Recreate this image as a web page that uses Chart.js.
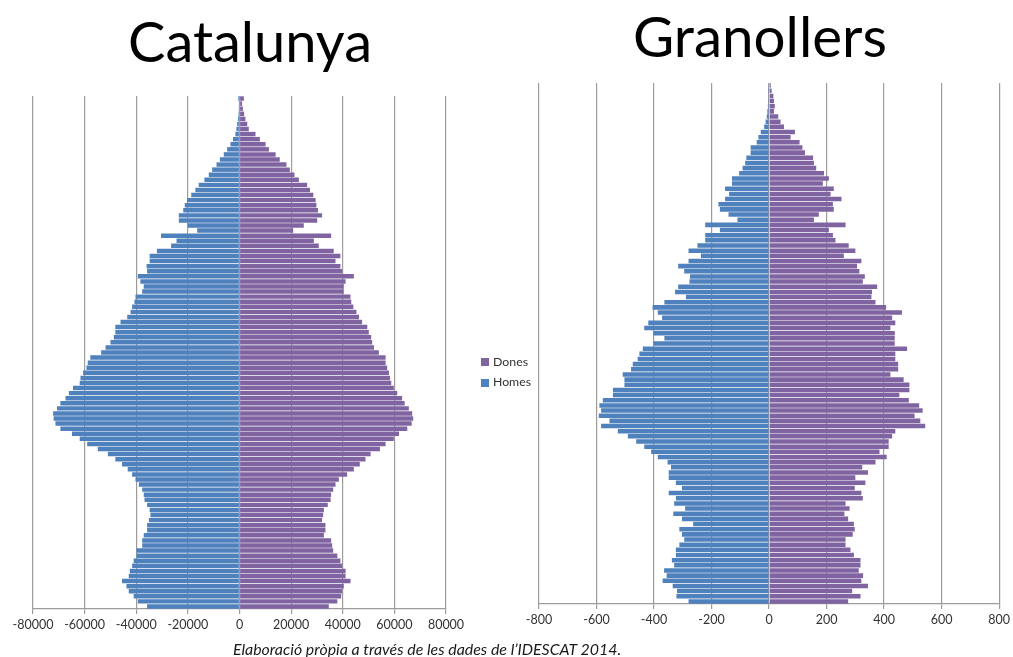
<!DOCTYPE html>
<html><head><meta charset="utf-8">
<script src="https://cdn.jsdelivr.net/npm/chart.js@4.4.1/dist/chart.umd.min.js"></script>
<style>
html,body{margin:0;padding:0;background:#fff;}
#wrap{position:relative;width:1013px;height:657px;overflow:hidden;background:#fff;}
canvas{position:absolute;}
.txt{position:absolute;white-space:nowrap;line-height:1;margin:0;padding:0;}
.sw{position:absolute;}
</style></head><body>
<div id="wrap">
  <div id="t1" class="txt"></div>
  <div id="t2" class="txt"></div>
  <canvas id="c1" width="480" height="560" style="left:0px;top:86px"></canvas>
  <canvas id="c2" width="513" height="570" style="left:500px;top:70px"></canvas>
  <div id="legend"></div>
  <div id="cap" class="txt"></div>
</div>
<script>
// ---- data (ages 0 .. 100+, bottom to top) ----
const ages = ["0","1","2","3","4","5","6","7","8","9","10","11","12","13","14","15","16","17","18","19","20","21","22","23","24","25","26","27","28","29","30","31","32","33","34","35","36","37","38","39","40","41","42","43","44","45","46","47","48","49","50","51","52","53","54","55","56","57","58","59","60","61","62","63","64","65","66","67","68","69","70","71","72","73","74","75","76","77","78","79","80","81","82","83","84","85","86","87","88","89","90","91","92","93","94","95","96","97","98","99","100"];

const catalunyaHomes = [-35800,-39400,-41000,-42900,-43800,-45500,-42900,-42500,-41600,-41000,
 -39900,-39900,-37700,-37700,-37100,-35800,-35800,-35100,-34500,-34800,
 -35800,-36800,-37100,-37700,-39000,-40300,-41600,-43300,-45500,-48100,
 -51000,-54900,-59000,-61900,-64900,-69400,-71300,-72000,-72200,-70700,
 -69400,-67400,-66100,-64500,-61900,-61600,-60600,-59300,-58800,-57800,
 -53600,-51900,-50000,-48700,-48100,-48100,-46100,-43500,-42200,-41600,
 -40700,-40300,-37700,-37100,-38400,-39400,-35800,-36000,-34800,-34800,
 -32000,-26500,-24400,-30400,-16400,-20000,-23500,-23500,-21800,-21200,
 -20300,-18700,-17100,-15800,-13600,-11900,-10600,-8900,-7600,-6100,
 -4800,-3500,-2500,-1600,-1200,-900,-600,-400,-300,-200,-500];

const catalunyaDones = [34600,37900,39400,39800,40400,43000,41100,41100,39800,39100,
 37900,36300,35900,35500,32700,33300,33300,32000,32400,32700,
 34200,35300,35500,36300,37200,38500,41700,44300,46600,48800,
 50800,54400,56600,59800,61800,65000,66700,67300,66900,65600,
 64000,63000,61100,59800,58800,58300,57900,57200,56600,56600,
 54000,52100,51400,51000,50100,49500,47500,46300,45300,44100,
 43300,43000,40400,40400,41100,44300,39800,39100,37200,39100,
 36500,30700,28800,35500,20800,24900,30100,32000,30400,29800,
 29500,28600,27300,26200,23000,21300,19500,18200,15600,14000,
 11400,10100,7900,6200,3600,3000,2300,1800,1300,1000,1700];

const granollersHomes = [-280,-322,-320,-335,-370,-356,-365,-330,-338,-324,
 -324,-312,-295,-303,-312,-264,-303,-333,-292,-330,
 -324,-349,-303,-324,-349,-349,-341,-353,-387,-410,
 -434,-462,-491,-526,-584,-555,-592,-584,-590,-578,
 -543,-543,-503,-503,-509,-480,-474,-457,-451,-439,
 -402,-364,-402,-434,-420,-372,-387,-405,-364,-289,
 -327,-316,-277,-275,-295,-316,-280,-237,-280,-249,
 -222,-222,-171,-222,-110,-141,-171,-176,-153,-139,
 -153,-129,-129,-104,-92,-83,-79,-64,-64,-43,
 -37,-29,-17,-12,-8,-6,-4,-3,-2,-1,-2];

const granollersDones = [275,318,289,344,321,327,312,318,318,295,
 283,266,266,291,298,295,275,262,280,266,
 326,321,298,335,300,344,324,370,409,384,
 416,416,428,439,543,526,506,534,522,486,
 453,488,488,468,422,449,449,439,439,480,
 437,437,437,422,439,428,462,407,370,356,
 358,376,326,333,314,306,321,260,300,277,
 231,222,208,266,156,173,225,222,252,214,
 225,187,208,191,164,156,153,125,116,106,
 75,90,52,40,32,17,20,17,15,9,6];

const catalunyaTicks = [-80000,-60000,-40000,-20000,0,20000,40000,60000,80000];
const granollersTicks = [-800,-600,-400,-200,0,200,400,600,800];
const seriesNames = ["Dones","Homes"];
const seriesColors = ["#8064A2","#4F81BD"];
const chartTitles = ["Catalunya","Granollers"];
const sourceNote = "Elaboració pròpia a través de les dades de l’IDESCAT 2014.";

const FONT = "Lato, 'Open Sans', 'DejaVu Sans', sans-serif";
const GRID = '#9c9c9c';

// ---- text placement helper (fit width, set baseline) ----
const mctx = document.createElement('canvas').getContext('2d');
function placeText(el, text, style, left, right, baseline, color){
  mctx.font = style + ' 100px ' + FONT;
  const w = mctx.measureText(text).width;
  const size = 100 * (right - left) / w;
  mctx.font = style + ' ' + size + 'px ' + FONT;
  const m = mctx.measureText(text);
  const fa = m.fontBoundingBoxAscent, fd = m.fontBoundingBoxDescent;
  const top = baseline - fa - (size - fa - fd) / 2;
  el.textContent = text;
  el.style.font = style + ' ' + size + 'px ' + FONT;
  el.style.lineHeight = size + 'px';
  el.style.left = left + 'px';
  el.style.top = top + 'px';
  el.style.color = color;
}

function makeChart(id, homes, dones, ticks, pad, axisH){
  return new Chart(document.getElementById(id), {
    type: 'bar',
    data: {
      labels: ages,
      datasets: [
        {label: seriesNames[0], data: dones, backgroundColor: seriesColors[0], borderWidth: 0, barPercentage: 0.88, categoryPercentage: 1},
        {label: seriesNames[1], data: homes, backgroundColor: seriesColors[1], borderWidth: 0, barPercentage: 0.88, categoryPercentage: 1}
      ]
    },
    options: {
      indexAxis: 'y',
      responsive: false,
      animation: false,
      layout: {padding: pad},
      plugins: {legend: {display: false}, tooltip: {enabled: false}, title: {display: false}},
      scales: {
        y: {stacked: true, reverse: true, display: false},
        x: {
          stacked: true,
          min: ticks[0], max: ticks[ticks.length - 1],
          afterBuildTicks: s => { s.ticks = ticks.map(v => ({value: v})); },
          afterFit: s => { s.height = axisH; },
          grid: {color: GRID, lineWidth: 1.2, tickLength: 5, drawTicks: true},
          border: {display: true, color: GRID, width: 1.2},
          ticks: {color: '#333', font: {size: 12.5, family: FONT}, padding: 3,
                  maxRotation: 0, minRotation: 0, autoSkip: false,
                  callback: v => String(v)}
        }
      }
    }
  });
}

makeChart('c1', catalunyaHomes, catalunyaDones, catalunyaTicks, {left: 33, right: 34, top: 10, bottom: 0}, 37);
makeChart('c2', granollersHomes, granollersDones, granollersTicks, {left: 39, right: 12, top: 13, bottom: 0}, 36);

placeText(document.getElementById('t1'), chartTitles[0], 'normal', 128, 372, 63, '#000');
placeText(document.getElementById('t2'), chartTitles[1], 'normal', 633, 887, 57, '#000');
placeText(document.getElementById('cap'), sourceNote, 'italic', 233, 622, 655, '#1a1a1a');

// legend
const lg = document.getElementById('legend');
const legendRows = [{sq: 358, base: 367, right: 528}, {sq: 379, base: 387, right: 531}];
seriesNames.forEach((name, i) => {
  const sq = document.createElement('div');
  sq.className = 'sw';
  sq.style.cssText = 'left:481px;top:' + legendRows[i].sq + 'px;width:8px;height:8px;background:' + seriesColors[i] + ';';
  lg.appendChild(sq);
  const t = document.createElement('div');
  t.className = 'txt';
  lg.appendChild(t);
  placeText(t, name, 'normal', 493, legendRows[i].right, legendRows[i].base, '#333');
});
</script>
</body></html>
